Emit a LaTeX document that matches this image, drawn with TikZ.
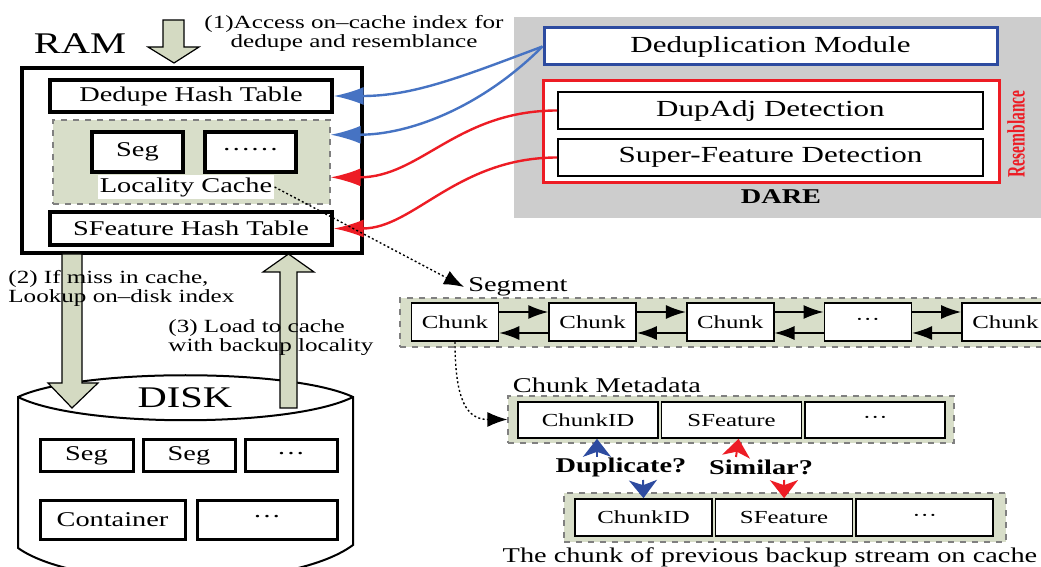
\documentclass[tikz,border=0pt]{standalone}
\usepackage{fontspec}
\setmainfont{Liberation Serif}[FakeStretch=1.35]
\newfontfamily\narrowserif{Liberation Serif}[FakeStretch=0.62]
\usetikzlibrary{arrows.meta,positioning,calc}
\definecolor{olivefill}{RGB}{216,222,201}
\definecolor{arrowfill}{RGB}{212,218,194}
\definecolor{daregray}{RGB}{205,205,205}
\definecolor{linkblue}{RGB}{70,115,195}
\definecolor{darkblue}{RGB}{45,75,160}
\definecolor{linkred}{RGB}{237,28,36}

\begin{document}
\begin{tikzpicture}[x=0.5pt,y=-0.5pt,node distance=1pt,
  txt/.style={font=\fontsize{10.5}{12}\selectfont},
  thickbox/.style={draw,line width=1.7pt,fill=white,inner sep=0pt,txt},
  thinbox/.style={draw,line width=0.8pt,fill=white,inner sep=0pt,txt},
  modbox/.style={thinbox,minimum width=212.5pt,minimum height=18.5pt,font=\fontsize{11.5}{13}\selectfont},
  region/.style={draw=gray,dashed,line width=0.6pt,fill=olivefill,inner sep=0pt},
  cell/.style={thinbox,minimum width=43.5pt,minimum height=19pt,font=\fontsize{9.2}{11}\selectfont},
  metacell/.style={cell,minimum width=70pt,minimum height=18pt},
  prevcell/.style={cell,minimum width=68.5pt,minimum height=18.5pt},
  diskbox/.style={thickbox,line width=1.5pt,minimum height=16pt},
  note/.style={font=\fontsize{9.3}{9.5}\selectfont,inner sep=0pt},
  bigtxt/.style={font=\fontsize{15}{17}\selectfont,inner sep=0pt},
  blockarrow/.style={draw,line width=0.6pt,fill=arrowfill},
  bluelink/.style={linkblue,line width=1.2pt,-{Latex[length=15pt,width=9pt]}},
  redlink/.style={linkred,line width=1.2pt,-{Latex[length=15pt,width=9pt]}},
  dotlink/.style={line width=0.7pt,dash pattern=on 1pt off 1.2pt,-{Latex[length=10pt,width=7.5pt]}},
  chain/.style={line width=0.8pt,-{Latex[length=10pt,width=7pt]}},
  bluehint/.style={darkblue,line width=1pt,-{Stealth[length=9pt,width=14pt,inset=2.5pt]}},
  redhint/.style={linkred,line width=1pt,-{Stealth[length=9pt,width=14pt,inset=2.5pt]}}]

  \clip (0,0) rectangle (1041,567);
  \fill[white] (0,0) rectangle (1041,567);

  \fill[daregray] (514,17) rectangle (1045,218);
  \node[draw=darkblue,line width=1.5pt,fill=white,minimum width=226.5pt,minimum height=18.5pt,
        font=\fontsize{11.5}{13}\selectfont] (dedup) at (770.5,46.5) {Deduplication Module};
  \node[draw=linkred,line width=1.5pt,fill=white,minimum width=228pt,minimum height=51pt] (resem) at (771,132) {};
  \node[modbox] (dupadj) at (770.5,110.5) {DupAdj Detection};
  \node[modbox] (sfdet) at (770.5,157.5) {Super-Feature Detection};
  \node[rotate=90,text=linkred,font=\narrowserif\bfseries\fontsize{12.5}{14}\selectfont,inner sep=0pt] (resemlbl) at (1016,134) {Resemblance};
  \node[font=\bfseries\fontsize{10.5}{12}\selectfont] (dare) at (781,197) {DARE};

  \node[bigtxt] (ramlbl) at (80,44) {RAM};
  \draw[blockarrow] (163,20) -- (184,20) -- (184,47) -- (199,47) -- (174,63) -- (148,47) -- (163,47) -- cycle;
  \node[note,align=center] (step1) at (354,33) {(1)Access on--cache index for\\dedupe and resemblance};

  \node[draw,line width=2pt,minimum width=170pt,minimum height=92.5pt] (ram) at (192,160.5) {};
  \node[thickbox,minimum width=141pt,minimum height=16pt] (dht) at (191,96) {Dedupe Hash Table};
  \node[region,minimum width=138.5pt,minimum height=42pt] (cache) at (191.5,162) {};
  \node[thickbox,minimum width=45.5pt,minimum height=20pt] (cseg) at (137.5,152) {Seg};
  \node[thickbox,minimum width=45.5pt,minimum height=20pt] (cmore) at (250.5,152) {······};
  \node[fill=white,inner sep=1pt,txt] (cachelbl) at (186,187) {Locality Cache};
  \node[thickbox,minimum width=141pt,minimum height=16.5pt] (sfht) at (191,228.5) {SFeature Hash Table};

  \draw[line width=1pt,fill=white] (18,397) .. controls (80,368) and (291,368) .. (353,397)
    -- (353,545) .. controls (290,592) and (80,592) .. (18,548) -- cycle;
  \draw[line width=1pt] (18,397) .. controls (80,428) and (291,428) .. (353,397);
  \node[bigtxt] (disklbl) at (185,398) {DISK};
  \node[diskbox,minimum width=46.5pt] (dseg1) at (86.5,456) {Seg};
  \node[diskbox,minimum width=46pt] (dseg2) at (189,456) {Seg};
  \node[diskbox,minimum width=46pt] (dmore1) at (291,456) {···};
  \node[diskbox,minimum width=72.5pt,minimum height=19.5pt] (cont) at (112.5,519.5) {Container};
  \node[diskbox,minimum width=70pt,minimum height=19.5pt] (dmore2) at (267,519.5) {···};

  \draw[blockarrow] (62,254) -- (82,254) -- (82,383) -- (98,383) -- (72,408) -- (48,383) -- (62,383) -- cycle;
  \draw[blockarrow] (280,408) -- (297,408) -- (297,272) -- (314,272) -- (288.5,254) -- (263,272) -- (280,272) -- cycle;
  \node[note,align=left,anchor=west] (step2) at (8,288) {(2) If miss in cache,\\Lookup on--disk index};
  \node[note,align=left,anchor=west] (step3) at (168,338) {(3) Load to cache\\with backup locality};

  \coordinate (cacheblue) at ($(cache.north east)!0.18!(cache.south east)$);
  \coordinate (cachered) at ($(cache.north east)!0.68!(cache.south east)$);
  \draw[bluelink] (dedup.west) .. controls +(-80,30) and +(80,0) .. (dht.east);
  \draw[bluelink] (dedup.west) .. controls +(-60,60) and +(80,0) .. (cacheblue);
  \draw[redlink] (dupadj.west) .. controls +(-100,0) and +(90,0) .. (cachered);
  \draw[redlink] (sfdet.west) .. controls +(-100,0) and +(80,0) .. (sfht.east);

  \node[txt,inner sep=2pt] (seglbl) at (518,287) {Segment};
  \draw[dotlink] (cachelbl.east) -- (seglbl.west);
  \node[region,minimum width=330pt,minimum height=24.5pt] (segment) at (730,322.5) {};
  \node[cell] (c1) at (455,322) {Chunk};
  \node[cell] (c2) [right=24.5pt of c1] {Chunk};
  \node[cell] (c3) [right=24.5pt of c2] {Chunk};
  \node[cell] (c4) [right=24.5pt of c3] {···};
  \node[cell] (c5) [right=24.5pt of c4] {Chunk};
  \draw[chain] ([yshift=5pt]c1.east) -- ([yshift=5pt]c2.west);
  \draw[chain] ([yshift=-5.5pt]c2.west) -- ([yshift=-5.5pt]c1.east);
  \draw[chain] ([yshift=5pt]c2.east) -- ([yshift=5pt]c3.west);
  \draw[chain] ([yshift=-5.5pt]c3.west) -- ([yshift=-5.5pt]c2.east);
  \draw[chain] ([yshift=5pt]c3.east) -- ([yshift=5pt]c4.west);
  \draw[chain] ([yshift=-5.5pt]c4.west) -- ([yshift=-5.5pt]c3.east);
  \draw[chain] ([yshift=5pt]c4.east) -- ([yshift=5pt]c5.west);
  \draw[chain] ([yshift=-5.5pt]c5.west) -- ([yshift=-5.5pt]c4.east);

  \node[txt] (metalbl) at (607,385) {Chunk Metadata};
  \node[region,minimum width=223pt,minimum height=23.5pt] (meta) at (731,419.5) {};
  \node[metacell] (id1) at (588,420) {ChunkID};
  \node[metacell] (sf1) [right=of id1] {SFeature};
  \node[metacell] (more1) [right=of sf1] {···};
  \draw[dotlink] (c1.south) .. controls +(0,60) and +(-40,0) .. (meta.west);

  \node[region,minimum width=221pt,minimum height=24.5pt] (prev) at (785,517.5) {};
  \node[prevcell] (id2) at (643.5,517.5) {ChunkID};
  \node[prevcell] (sf2) [right=of id2] {SFeature};
  \node[prevcell] (more2) [right=of sf2] {···};

  \coordinate (dupup) at (597,457);
  \coordinate (dupdown) at (643,480);
  \coordinate (simup) at (736,457);
  \coordinate (simdown) at (784,480);
  \draw[bluehint] (dupup) -- ([xshift=4.5pt]id1.south);
  \draw[bluehint] (dupdown) -- (id2.north);
  \draw[redhint] (simup) -- ([xshift=3.5pt]sf1.south);
  \draw[redhint] (simdown) -- (sf2.north);
  \node[font=\bfseries\fontsize{10.5}{12}\selectfont] (dupq) at (621,467) {Duplicate?};
  \node[font=\bfseries\fontsize{10.5}{12}\selectfont] (simq) at (761,467) {Similar?};
  \node[txt] (caption) at (770,557) {The chunk of previous backup stream on cache};
\end{tikzpicture}
\end{document}
